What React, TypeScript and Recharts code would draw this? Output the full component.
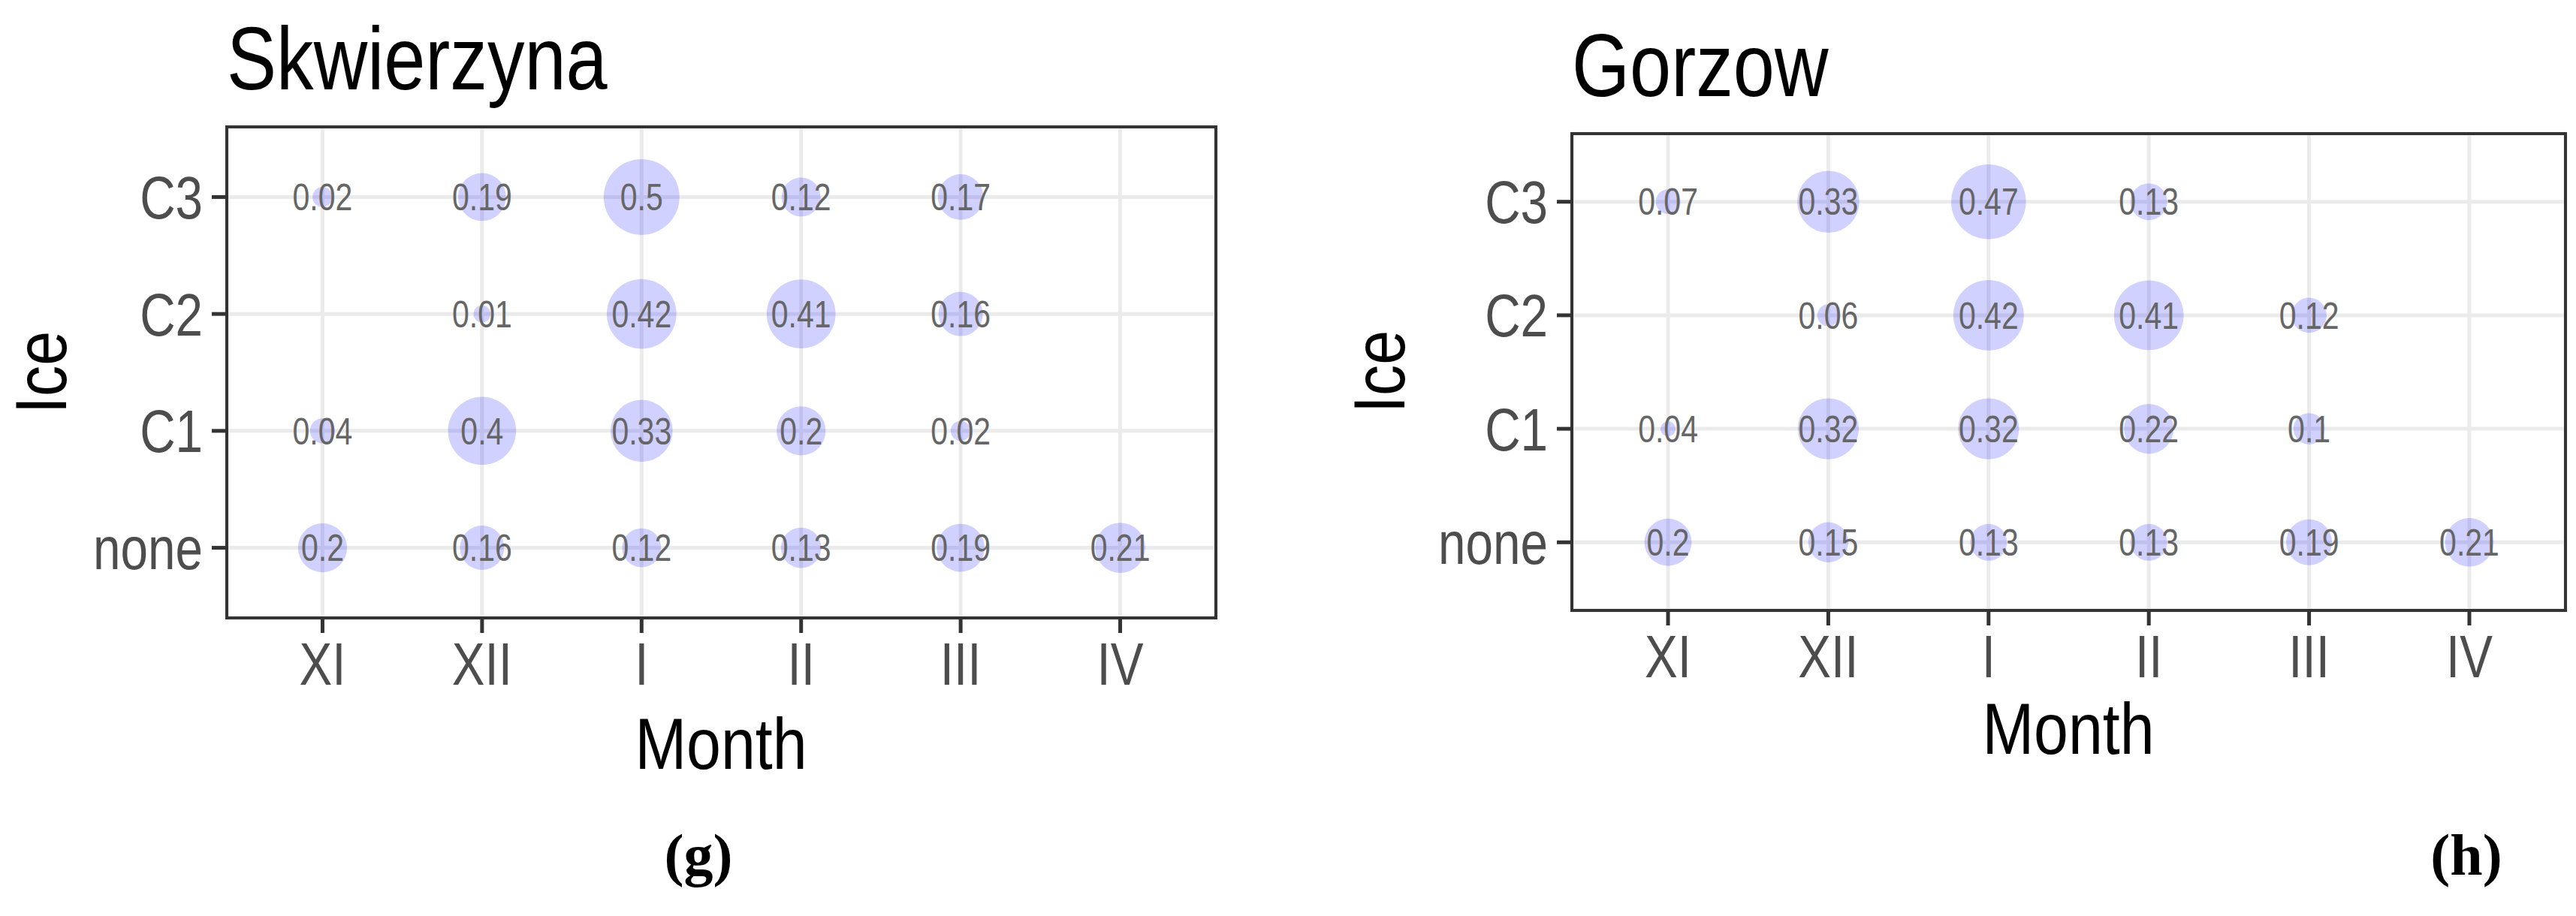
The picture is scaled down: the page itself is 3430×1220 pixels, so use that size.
import React from "react";
import {
  ScatterChart,
  Scatter,
  XAxis,
  YAxis,
  ZAxis,
  CartesianGrid,
  ReferenceArea,
  LabelList,
} from "recharts";

// ── data ──────────────────────────────────────────────

const months = ["XI", "XII", "I", "II", "III", "IV"];
const iceLevels = ["none", "C1", "C2", "C3"];

// Skwierzyna: share per month for each ice class (null = no bubble)
const skwNone = [0.2, 0.16, 0.12, 0.13, 0.19, 0.21];
const skwC1 = [0.04, 0.4, 0.33, 0.2, 0.02, null];
const skwC2 = [null, 0.01, 0.42, 0.41, 0.16, null];
const skwC3 = [0.02, 0.19, 0.5, 0.12, 0.17, null];

// Gorzow
const gorNone = [0.2, 0.15, 0.13, 0.13, 0.19, 0.21];
const gorC1 = [0.04, 0.32, 0.32, 0.22, 0.1, null];
const gorC2 = [null, 0.06, 0.42, 0.41, 0.12, null];
const gorC3 = [0.07, 0.33, 0.47, 0.13, null, null];

type Pt = { x: number; y: number; z: number };

function toPoints(rows: (number | null)[][]): Pt[] {
  const out: Pt[] = [];
  rows.forEach((row, yi) =>
    row.forEach((v, xi) => {
      if (v != null) out.push({ x: xi, y: yi, z: v });
    })
  );
  return out;
}

const skwData = toPoints([skwNone, skwC1, skwC2, skwC3]);
const gorData = toPoints([gorNone, gorC1, gorC2, gorC3]);

// ── styling ───────────────────────────────────────────

// the original uses a narrow Helvetica; squeeze Liberation Sans horizontally
const FONT = "'Liberation Sans', Arial, sans-serif";
const SERIF = "'Liberation Serif', 'DejaVu Serif', serif";
const INK = "#333333";
const SQUEEZE = 0.82;

function Narrow({ x, y, size, anchor, dy, fill, squeeze = SQUEEZE, rotate = 0, children }: any) {
  return (
    <text
      transform={`translate(${x} ${y}) rotate(${rotate}) scale(${squeeze} 1)`}
      textAnchor={anchor}
      dy={dy}
      fontSize={size}
      fontFamily={FONT}
      fill={fill}
    >
      {children}
    </text>
  );
}

const XTick = (p: any) => (
  <Narrow x={p.x} y={p.y} size={80} anchor="middle" dy="0.71em" fill="#4d4d4d">
    {months[p.payload.value]}
  </Narrow>
);

const YTick = (p: any) => (
  <Narrow x={p.x} y={p.y} size={80} anchor="end" dy="0.355em" fill="#4d4d4d">
    {iceLevels[p.payload.value]}
  </Narrow>
);

const BubbleLabel = (p: any) => {
  const vb = p.viewBox && p.viewBox.x != null ? p.viewBox : p;
  const cx = vb.x + (vb.width || 0) / 2;
  const cy = vb.y + (vb.height || 0) / 2;
  return (
    <Narrow x={cx} y={cy} size={50} anchor="middle" dy="0.355em" fill="#666666">
      {String(p.value)}
    </Narrow>
  );
};

interface PanelProps {
  data: Pt[];
  zDomain: [number, number];
  zRange: [number, number];
  left: number;
  width: number;
  margin: { top: number; right: number; bottom: number; left: number };
}

function IcePanel({ data, zDomain, zRange, left, width, margin }: PanelProps) {
  return (
    <div style={{ position: "absolute", left, top: 0, width, height: 1220 }}>
      <ScatterChart width={width} height={1220} margin={margin}>
        <CartesianGrid stroke="#ebebeb" strokeWidth={5} />
        <XAxis
          type="number"
          dataKey="x"
          domain={[-0.6, 5.6]}
          ticks={[0, 1, 2, 3, 4, 5]}
          interval={0}
          axisLine={false}
          tickLine={{ stroke: INK, strokeWidth: 5 }}
          tickSize={20}
          tickMargin={12}
          tick={XTick}
          height={100}
        />
        <YAxis
          type="number"
          dataKey="y"
          domain={[-0.6, 3.6]}
          ticks={[0, 1, 2, 3]}
          interval={0}
          axisLine={false}
          tickLine={{ stroke: INK, strokeWidth: 5 }}
          tickSize={20}
          tickMargin={12}
          tick={YTick}
          width={200}
        />
        <ZAxis type="number" dataKey="z" domain={zDomain} range={zRange} />
        <ReferenceArea
          x1={-0.6}
          x2={5.6}
          y1={-0.6}
          y2={3.6}
          fill="none"
          stroke={INK}
          strokeWidth={4}
          ifOverflow="visible"
        />
        <Scatter data={data} fill="#0000ff" fillOpacity={0.18} isAnimationActive={false}>
          <LabelList dataKey="z" position="center" content={BubbleLabel} />
        </Scatter>
      </ScatterChart>
    </div>
  );
}

export default function App() {
  return (
    <div style={{ position: "absolute", left: 0, top: 0, width: 3430, height: 1220, background: "#fff" }}>
      {/* Skwierzyna: plot box 302..1619 x 169..823 */}
      <IcePanel
        data={skwData}
        zDomain={[0, 0.5]}
        zRange={[250, 8000]}
        left={0}
        width={1700}
        margin={{ top: 169, right: 81, bottom: 297, left: 102 }}
      />
      {/* Gorzow: plot box 2093..3416 x 178..813 */}
      <IcePanel
        data={gorData}
        zDomain={[0.03, 0.47]}
        zRange={[150, 7800]}
        left={1715}
        width={1715}
        margin={{ top: 178, right: 14, bottom: 307, left: 178 }}
      />

      {/* titles, axis titles, panel tags */}
      <svg
        width={3430}
        height={1220}
        style={{ position: "absolute", left: 0, top: 0, pointerEvents: "none" }}
      >
        <Narrow x={302} y={119} size={118} squeeze={0.84} fill="#000">Skwierzyna</Narrow>
        <Narrow x={2093} y={128} size={118} squeeze={0.84} fill="#000">Gorzow</Narrow>

        <Narrow x={960} y={1024} size={97} squeeze={0.85} anchor="middle" fill="#000">Month</Narrow>
        <Narrow x={2754} y={1004} size={97} squeeze={0.85} anchor="middle" fill="#000">Month</Narrow>

        <Narrow x={88} y={496} size={97} squeeze={0.85} rotate={-90} anchor="middle" fill="#000">Ice</Narrow>
        <Narrow x={1870} y={495} size={97} squeeze={0.85} rotate={-90} anchor="middle" fill="#000">Ice</Narrow>

        <g fontFamily={SERIF} fontWeight="bold" fill="#000" fontSize={78} textAnchor="middle">
          <text x={930} y={1165}>(g)</text>
          <text x={3284} y={1165}>(h)</text>
        </g>
      </svg>
    </div>
  );
}
